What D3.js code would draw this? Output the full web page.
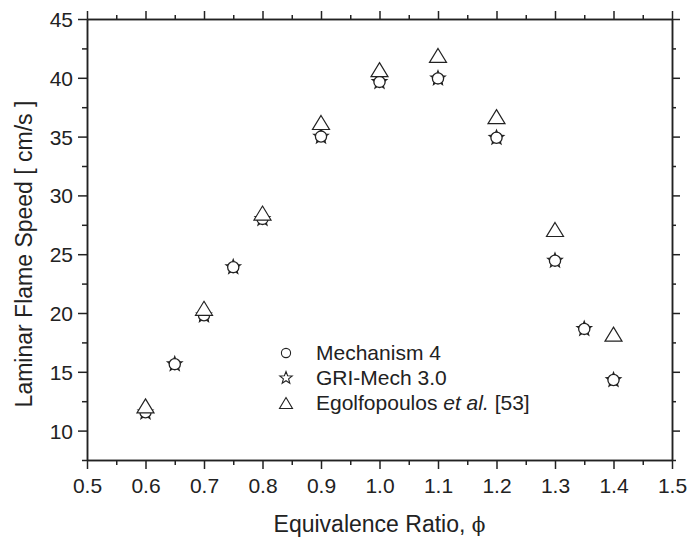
<!DOCTYPE html>
<html>
<head>
<meta charset="utf-8">
<script src="https://cdn.jsdelivr.net/npm/d3@7"></script>
<style>
  body { margin: 0; background: #fff; }
  text { font-family: "Liberation Sans", Arial, Helvetica, sans-serif; fill: #222; }
  .domain, .tick line { stroke: #222; stroke-width: 1.5; }
</style>
</head>
<body>
<svg id="chart" width="689" height="542"></svg>
<script>
// data
var phiModel = [0.6, 0.65, 0.7, 0.75, 0.8, 0.9, 1.0, 1.1, 1.2, 1.3, 1.35, 1.4];
var mech4 = [11.55, 15.65, 19.8, 23.9, 28.0, 35.0, 39.65, 39.95, 34.9, 24.45, 18.65, 14.3];
var griMech = [11.55, 15.65, 19.8, 23.9, 28.0, 35.0, 39.65, 39.95, 34.9, 24.45, 18.65, 14.3];
var phiExp = [0.6, 0.7, 0.8, 0.9, 1.0, 1.1, 1.2, 1.3, 1.4];
var egolf = [12.1, 20.4, 28.5, 36.2, 40.7, 41.9, 36.7, 27.1, 18.2];
var xMajor = [0.5, 0.6, 0.7, 0.8, 0.9, 1.0, 1.1, 1.2, 1.3, 1.4, 1.5];
var xMinor = [0.55, 0.65, 0.75, 0.85, 0.95, 1.05, 1.15, 1.25, 1.35, 1.45];
var yMajor = [10, 15, 20, 25, 30, 35, 40, 45];
var yMinor = [7.5, 12.5, 17.5, 22.5, 27.5, 32.5, 37.5, 42.5];
var legendNames = ["Mechanism 4", "GRI-Mech 3.0", "Egolfopoulos"];

(function() {
  var svg = d3.select("#chart");
  var mL = 87, mR = 672, mT = 19, mB = 460;

  var x = d3.scaleLinear().domain([0.5, 1.5]).range([mL, mR]);
  var y = d3.scaleLinear().domain([7.5, 45]).range([mB, mT]);

  function starPath(R) {
    var r = R * 0.42, pts = [];
    for (var i = 0; i < 10; i++) {
      var a = -Math.PI / 2 + i * Math.PI / 5;
      var rr = i % 2 ? r : R;
      pts.push([rr * Math.cos(a), rr * Math.sin(a)]);
    }
    return "M" + pts.map(function(p){ return p[0].toFixed(2) + "," + p[1].toFixed(2); }).join("L") + "Z";
  }
  function triPath(w, h) {
    return "M0," + (-h/2) + "L" + (w/2) + "," + (h/2) + "L" + (-w/2) + "," + (h/2) + "Z";
  }

  // axes: major + minor on every side
  function addAxis(axisFn, scale, vals, size, fmt, tr) {
    var ax = axisFn(scale).tickValues(vals).tickSizeInner(size).tickSizeOuter(0).tickPadding(4);
    ax.tickFormat(fmt ? d3.format(fmt) : "");
    var g = svg.append("g").attr("transform", tr).call(ax);
    g.selectAll("text").style("font-size", "21px").attr("fill", "#222");
    return g;
  }
  var gb = addAxis(d3.axisBottom, x, xMajor, 9, ".1f", "translate(0," + mB + ")");
  gb.selectAll("text").attr("y", 13).attr("dy", "0.95em");
  addAxis(d3.axisBottom, x, xMinor, 5, null, "translate(0," + mB + ")");
  addAxis(d3.axisTop, x, xMajor, 8, null, "translate(0," + mT + ")");
  addAxis(d3.axisTop, x, xMinor, 4, null, "translate(0," + mT + ")");
  var gl = addAxis(d3.axisLeft, y, yMajor, 9, "d", "translate(" + mL + ",0)");
  gl.selectAll("text").attr("x", -14).attr("dy", "0.36em");
  addAxis(d3.axisLeft, y, yMinor, 5, null, "translate(" + mL + ",0)");
  addAxis(d3.axisRight, y, yMajor, 8, null, "translate(" + mR + ",0)");
  addAxis(d3.axisRight, y, yMinor, 4, null, "translate(" + mR + ",0)");

  // axis titles
  var xt = svg.append("text")
    .attr("x", (mL + mR) / 2).attr("y", 532)
    .attr("text-anchor", "middle").style("font-size", "23px");
  xt.append("tspan").text("Equivalence Ratio, ");
  xt.append("tspan").style("font-family", "'DejaVu Serif', 'Liberation Serif', serif")
    .style("font-size", "20px").text("\u03d5");
  svg.append("text")
    .attr("transform", "translate(32,254) rotate(-90)")
    .attr("text-anchor", "middle").style("font-size", "23px")
    .text("Laminar Flame Speed [ cm/s ]");

  var marks = svg.append("g");
  // GRI-Mech stars underneath, Mechanism 4 circles on top
  marks.selectAll(".star").data(phiModel).enter().append("path")
    .attr("class", "star")
    .attr("d", starPath(7.5))
    .attr("transform", function(d, i){ return "translate(" + x(d) + "," + y(griMech[i]) + ")"; })
    .attr("fill", "#fff").attr("stroke", "#222").attr("stroke-width", 1.3);
  marks.selectAll(".circ").data(phiModel).enter().append("circle")
    .attr("class", "circ")
    .attr("cx", function(d){ return x(d); })
    .attr("cy", function(d, i){ return y(mech4[i]); })
    .attr("r", 5.6)
    .attr("fill", "#fff").attr("stroke", "#222").attr("stroke-width", 1.3);
  marks.selectAll(".tri").data(phiExp).enter().append("path")
    .attr("class", "tri")
    .attr("d", triPath(17, 14))
    .attr("transform", function(d, i){ return "translate(" + x(d) + "," + y(egolf[i]) + ")"; })
    .attr("fill", "#fff").attr("stroke", "#222").attr("stroke-width", 1.2);

  // legend
  var leg = svg.append("g");
  var rowY = [360, 385, 410];
  leg.append("circle").attr("cx", 286).attr("cy", rowY[0] - 7).attr("r", 4.6)
    .attr("fill", "none").attr("stroke", "#222").attr("stroke-width", 1.1);
  leg.append("path").attr("d", starPath(6.5))
    .attr("transform", "translate(286," + (rowY[1] - 7) + ")")
    .attr("fill", "none").attr("stroke", "#222").attr("stroke-width", 1.1);
  leg.append("path").attr("d", triPath(13, 11))
    .attr("transform", "translate(286," + (rowY[2] - 7) + ")")
    .attr("fill", "none").attr("stroke", "#222").attr("stroke-width", 1.1);
  leg.append("text").attr("x", 316).attr("y", rowY[0]).style("font-size", "21px").text(legendNames[0]);
  leg.append("text").attr("x", 316).attr("y", rowY[1]).style("font-size", "21px").text(legendNames[1]);
  var t3 = leg.append("text").attr("x", 316).attr("y", rowY[2]).style("font-size", "21px");
  t3.append("tspan").text(legendNames[2] + " ");
  t3.append("tspan").style("font-style", "italic").text("et al.");
  t3.append("tspan").text(" [53]");
})();
</script>
</body>
</html>
